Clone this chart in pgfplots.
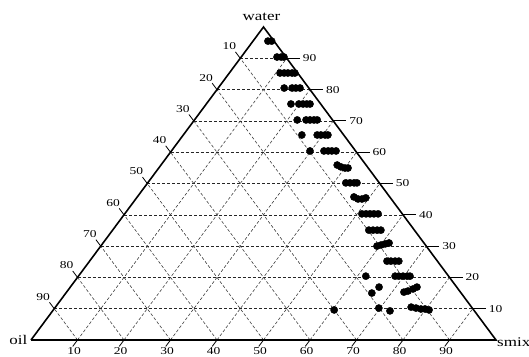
\documentclass[border=0pt]{standalone}
\usepackage{fontspec}
\setmainfont{Liberation Serif}
\usepackage{graphicx}
\usepackage{pgfplots}
\pgfplotsset{compat=1.18}
\usepackage{pgfplotstable}

% ternary data: w = water (%), s = smix (%), oil = 100 - w - s
\pgfplotstableread{
w s
95.5 3.2
95.5 4.0
90.4 7.7
90.4 8.6
90.4 9.2
85.3 10.9
85.3 11.8
85.3 12.6
85.3 13.5
85.3 14.1
80.5 14.2
80.5 15.9
80.5 16.7
80.5 17.6
75.4 18.2
75.4 19.9
75.4 20.8
75.4 21.6
75.4 22.3
70.3 22.1
70.3 24.0
70.3 24.85
70.3 25.7
70.3 26.4
65.5 25.5
65.5 28.8
65.5 29.6
65.5 30.5
65.5 31.1
60.4 29.8
60.4 32.8
60.4 33.7
60.4 34.5
60.4 35.4
55.9 37.9
55.3 39.0
54.95 40.05
54.95 40.7
50.2 42.6
50.2 43.5
50.2 44.4
50.2 45.0
45.7 46.6
45.05 47.8
45.05 48.65
45.4 49.3
40.3 51.0
40.3 51.9
40.3 52.75
40.3 53.6
40.3 54.5
35.1 55.1
35.1 56.0
35.1 56.9
35.1 57.7
30.0 59.4
30.35 60.1
30.7 60.8
31.0 61.5
25.2 63.95
25.2 64.8
25.2 65.7
25.2 66.5
20.4 61.8
20.4 68.1
20.4 68.9
20.4 69.8
20.4 70.7
20.4 71.3
15.0 65.8
16.9 66.4
15.3 72.55
15.65 73.25
16.3 74.0
16.9 74.55
9.6 60.4
10.2 69.7
9.3 72.55
10.5 76.5
10.2 77.7
9.9 78.9
9.9 79.8
9.6 80.8
}\datatable

\newcommand{\sq}[1]{\scalebox{1}[0.78]{#1}}
\newcommand{\numfont}{\fontsize{13.5}{15}\selectfont}
\newcommand{\labfont}{\fontsize{17}{19}\selectfont}

\begin{document}
\begin{tikzpicture}
\begin{axis}[
  scale only axis, width=465pt, height=313pt,
  xmin=0, xmax=100, ymin=0, ymax=100,
  hide axis, clip=false,
]
% grid: constant water (horizontal)
\draw[black!85, line width=0.6pt, dash pattern=on 3pt off 2pt]
  (axis cs:5,10) -- (axis cs:95,10)
  (axis cs:10,20) -- (axis cs:90,20)
  (axis cs:15,30) -- (axis cs:85,30)
  (axis cs:20,40) -- (axis cs:80,40)
  (axis cs:25,50) -- (axis cs:75,50)
  (axis cs:30,60) -- (axis cs:70,60)
  (axis cs:35,70) -- (axis cs:65,70)
  (axis cs:40,80) -- (axis cs:60,80)
  (axis cs:45,90) -- (axis cs:55,90);
% grid: constant smix
\draw[black!75, line width=0.6pt, dash pattern=on 3pt off 2pt]
  (axis cs:10,0) -- (axis cs:55,90)
  (axis cs:20,0) -- (axis cs:60,80)
  (axis cs:30,0) -- (axis cs:65,70)
  (axis cs:40,0) -- (axis cs:70,60)
  (axis cs:50,0) -- (axis cs:75,50)
  (axis cs:60,0) -- (axis cs:80,40)
  (axis cs:70,0) -- (axis cs:85,30)
  (axis cs:80,0) -- (axis cs:90,20)
  (axis cs:90,0) -- (axis cs:95,10);
% grid: constant oil
\draw[black!75, line width=0.6pt, dash pattern=on 3pt off 2pt]
  (axis cs:10,0) -- (axis cs:5,10)
  (axis cs:20,0) -- (axis cs:10,20)
  (axis cs:30,0) -- (axis cs:15,30)
  (axis cs:40,0) -- (axis cs:20,40)
  (axis cs:50,0) -- (axis cs:25,50)
  (axis cs:60,0) -- (axis cs:30,60)
  (axis cs:70,0) -- (axis cs:35,70)
  (axis cs:80,0) -- (axis cs:40,80)
  (axis cs:90,0) -- (axis cs:45,90);
% triangle
\addplot[black, line width=1.6pt, line join=miter] coordinates {(0,0) (100,0) (50,100) (0,0)};
% data
\addplot[only marks, mark=*, mark size=3.6pt, black]
  table[x expr=\thisrow{s}+0.5*\thisrow{w}, y=w] {\datatable};
\end{axis}
% ticks and tick labels
\foreach \k in {10,20,...,90} {
  \pgfmathsetmacro\bx{4.65*\k}
  \draw[line width=0.8pt] (\bx pt,0pt) -- ++(-4.8pt,-6.4pt);
  \node[font=\numfont, inner sep=0pt] at (\bx pt-3.5pt,-10.8pt) {\sq{\k}};
  \pgfmathsetmacro\lx{2.325*\k}
  \pgfmathsetmacro\ly{3.13*\k}
  \pgfmathtruncatemacro\lab{100-\k}
  \draw[line width=0.8pt] (\lx pt,\ly pt) -- ++(-4.8pt,6.4pt);
  \node[font=\numfont, inner sep=0pt] at (\lx pt-11pt,\ly pt+12pt) {\sq{\lab}};
  \pgfmathsetmacro\rx{465-2.325*\k}
  \draw[line width=0.8pt] (\rx pt,\ly pt) -- ++(13pt,0pt);
  \node[font=\numfont, inner sep=0pt, anchor=west] at (\rx pt+16pt,\ly pt) {\sq{\k}};
}
\node[font=\labfont, inner sep=0pt, anchor=south] at (230.5pt,319.5pt) {\sq{water}};
\node[font=\labfont, inner sep=0pt, anchor=base east] at (-3.5pt,-4pt) {\sq{oil}};
\node[font=\labfont, inner sep=0pt, anchor=base west] at (466pt,-6pt) {\sq{smix}};
\pgfresetboundingbox
\path[use as bounding box] (-31pt,-16pt) rectangle (498pt,340pt);
\end{tikzpicture}
\end{document}
